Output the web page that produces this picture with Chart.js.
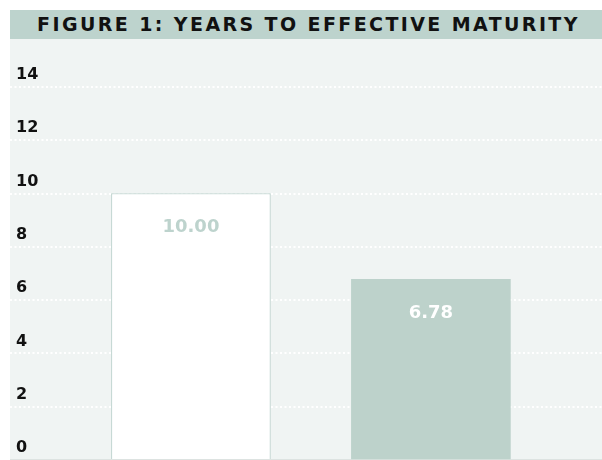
<!DOCTYPE html>
<html>
<head>
<meta charset="utf-8">
<script src="https://cdn.jsdelivr.net/npm/chart.js@4"></script>
<style>
    body { margin: 0; background: #ffffff; }
    #title {
        position: absolute; left: 10px; top: 10px; width: 592px; height: 29px;
        background: #bdd3cd; color: #111111;
        font: bold 19px "DejaVu Sans", sans-serif; letter-spacing: 2.4px;
        text-align: center; line-height: 28px; white-space: nowrap;
        text-indent: 5px;
    }
    #box {
        position: absolute; left: 10px; top: 39px; width: 592px; height: 421px;
        background: #f0f4f3;
    }
</style>
</head>
<body>
<div id="title">FIGURE 1: YEARS TO EFFECTIVE MATURITY</div>
<div id="box"><canvas id="myChart"></canvas></div>
<script>
/* ========== Dados =============== */

const categories = ['Series A', 'Series B'];
const values = [10.00, 6.78];
const valueLabels = ['10.00', '6.78'];
const yTicks = [0, 2, 4, 6, 8, 10, 12, 14];

/* ========== Grafico =============== */

const ctx = document.getElementById('myChart');

// escreve o valor dentro de cada barra
const barLabels = {
    id: 'barLabels',
    afterDatasetsDraw(chart) {
        const c = chart.ctx;
        const meta = chart.getDatasetMeta(0);
        c.save();
        c.font = 'bold 18px "DejaVu Sans", sans-serif';
        c.textAlign = 'center';
        c.textBaseline = 'middle';
        meta.data.forEach(function (bar, i) {
            c.fillStyle = i == 0 ? '#bdd3cd' : '#ffffff';
            c.fillText(valueLabels[i], bar.x, bar.y + 34);
        });
        c.restore();
    }
};

new Chart(ctx, {
    type: 'bar',
    data: {
        datasets: [{
            label: 'Years',
            data: categories.map(function (c, i) { return { x: i, y: values[i] }; }),
            backgroundColor: ['#ffffff', '#bdd2cb'],
            borderColor: '#bdd3cd',
            borderWidth: [1, 0],
            barThickness: 159
        }]
    },
    options: {
        responsive: true,
        maintainAspectRatio: false,
        animation: false,
        layout: { padding: 0 },
        plugins: {
            legend: { display: false },
            tooltip: { enabled: false }
        },
        scales: {
            x: {
                type: 'linear',
                display: false,
                offset: false,
                min: -0.754,
                max: 1.713
            },
            y: {
                min: 0,
                max: 15.8,
                afterBuildTicks: function (axis) {
                    axis.ticks = yTicks.map(function (v) { return { value: v }; });
                },
                // sem margem: o eixo fica por cima da area do grafico
                afterFit: function (axis) {
                    axis.width = 0;
                    axis.paddingTop = 0;
                    axis.paddingBottom = 0;
                    axis.paddingLeft = 0;
                    axis.paddingRight = 0;
                },
                ticks: {
                    mirror: true,
                    padding: 6,
                    labelOffset: -12,
                    color: '#111111',
                    font: { family: '"DejaVu Sans", sans-serif', size: 16, weight: 'bold' }
                },
                grid: {
                    drawTicks: false,
                    lineWidth: 2,
                    color: function (c) { return c.tick && c.tick.value == 0 ? '#dde3e1' : '#ffffff'; }
                },
                border: {
                    display: false,
                    dash: function (c) { return c.tick && c.tick.value == 0 ? [] : [2, 2.5]; }
                }
            }
        }
    },
    plugins: [barLabels]
});
</script>
</body>
</html>
